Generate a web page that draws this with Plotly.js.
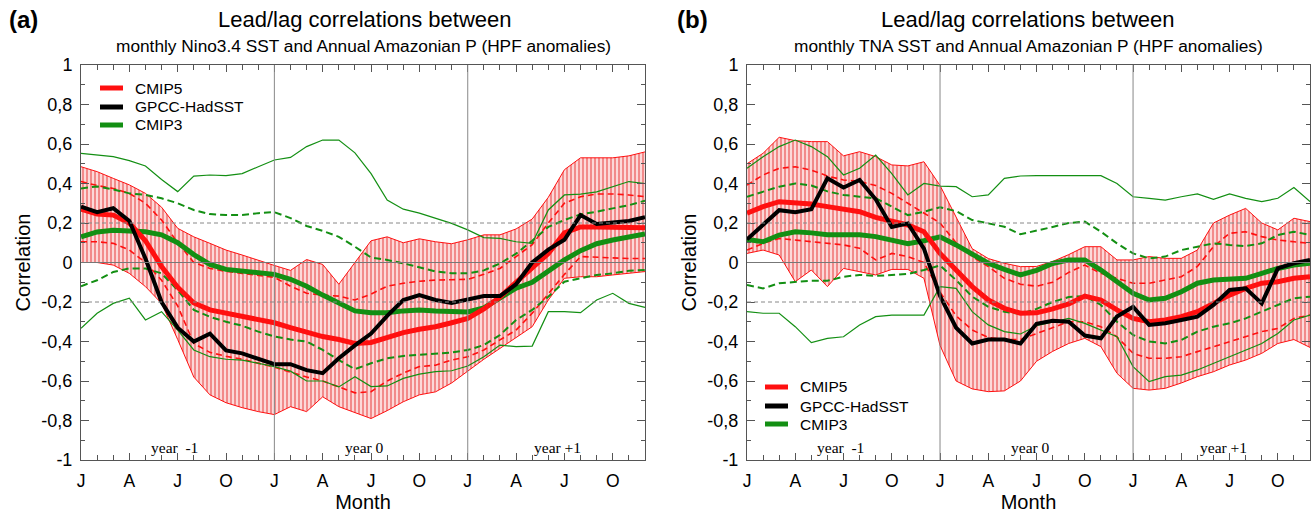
<!DOCTYPE html>
<html><head><meta charset="utf-8">
<script src="https://cdn.plot.ly/plotly-3.0.1.min.js"></script>
<style>html,body{margin:0;padding:0;background:#fff}#chart{width:1314px;height:517px}</style>
</head><body><div id="chart"></div>
<script>
// ---------- categories / ticks ----------
const months = [0,1,2,3,4,5,6,7,8,9,10,11,12,13,14,15,16,17,18,19,20,21,22,23,24,25,26,27,28,29,30,31,32,33,34,35];
const tickMonths = [0,3,6,9,12,15,18,21,24,27,30,33];
const tickMonthLabels = ['J','A','J','O','J','A','J','O','J','A','J','O'];
const yTickVals = [-1,-0.8,-0.6,-0.4,-0.2,0,0.2,0.4,0.6,0.8,1];
const yTickLabels = ['-1','-0,8','-0,6','-0,4','-0,2','0','0,2','0,4','0,6','0,8','1'];
const yearLabels = ['year  -1','year 0','year +1'];
const seriesNames = ['CMIP5','GPCC-HadSST','CMIP3'];

// ---------- panel (a): Nino3.4 ----------
const a_cmip5_mean = [0.27,0.245,0.24,0.2,0.11,-0.02,-0.125,-0.205,-0.24,-0.255,-0.27,-0.285,-0.305,-0.33,-0.355,-0.375,-0.39,-0.41,-0.405,-0.38,-0.355,-0.338,-0.325,-0.305,-0.283,-0.235,-0.175,-0.1,-0.03,0.045,0.15,0.18,0.18,0.178,0.177,0.176];
const a_cmip5_max = [0.485,0.46,0.426,0.393,0.35,0.28,0.173,0.13,0.097,0.063,0.038,0.01,-0.015,-0.04,0.015,-0.01,-0.11,0.0,0.11,0.13,0.1,0.12,0.105,0.095,0.115,0.14,0.14,0.17,0.22,0.33,0.47,0.53,0.53,0.53,0.54,0.56];
const a_cmip5_min = [0.0,0.0,-0.013,-0.055,-0.122,-0.207,-0.39,-0.58,-0.67,-0.71,-0.735,-0.755,-0.77,-0.73,-0.755,-0.68,-0.73,-0.76,-0.79,-0.75,-0.705,-0.67,-0.655,-0.61,-0.55,-0.49,-0.435,-0.38,-0.325,-0.19,-0.08,-0.072,-0.072,-0.063,-0.055,-0.046];
const a_cmip5_sdup = [0.41,0.39,0.375,0.35,0.3,0.215,0.1,0.0,-0.03,-0.045,-0.055,-0.065,-0.075,-0.12,-0.156,-0.165,-0.17,-0.19,-0.16,-0.12,-0.105,-0.095,-0.089,-0.087,-0.085,-0.06,-0.03,0.03,0.09,0.2,0.3,0.333,0.347,0.347,0.342,0.333];
const a_cmip5_sdlo = [0.105,0.105,0.097,0.063,0.0,-0.09,-0.22,-0.41,-0.455,-0.475,-0.49,-0.51,-0.53,-0.555,-0.58,-0.6,-0.63,-0.66,-0.654,-0.6,-0.56,-0.527,-0.52,-0.494,-0.477,-0.443,-0.392,-0.342,-0.257,-0.156,-0.06,0.03,0.026,0.023,0.02,0.02];
const a_obs = [0.283,0.255,0.275,0.21,0.02,-0.2,-0.33,-0.4,-0.36,-0.445,-0.46,-0.485,-0.515,-0.515,-0.545,-0.56,-0.485,-0.42,-0.36,-0.27,-0.19,-0.165,-0.19,-0.205,-0.19,-0.17,-0.17,-0.11,0.0,0.065,0.115,0.24,0.195,0.2,0.21,0.23];
const a_cmip3_mean = [0.13,0.155,0.163,0.16,0.156,0.14,0.1,0.04,-0.01,-0.035,-0.045,-0.055,-0.06,-0.085,-0.12,-0.165,-0.205,-0.245,-0.254,-0.254,-0.245,-0.24,-0.245,-0.25,-0.25,-0.23,-0.18,-0.13,-0.1,-0.045,0.013,0.06,0.095,0.114,0.127,0.144];
const a_cmip3_sdup = [0.375,0.385,0.37,0.35,0.342,0.325,0.3,0.266,0.245,0.24,0.24,0.25,0.255,0.225,0.185,0.16,0.13,0.08,0.025,0.013,-0.004,-0.025,-0.045,-0.055,-0.055,-0.04,-0.005,0.045,0.11,0.18,0.215,0.244,0.257,0.274,0.29,0.313];
const a_cmip3_sdlo = [-0.12,-0.09,-0.048,-0.03,-0.03,-0.055,-0.14,-0.24,-0.275,-0.3,-0.32,-0.35,-0.375,-0.39,-0.4,-0.443,-0.494,-0.54,-0.51,-0.485,-0.473,-0.468,-0.463,-0.456,-0.443,-0.418,-0.367,-0.291,-0.24,-0.173,-0.097,-0.08,-0.063,-0.055,-0.042,-0.038];
const a_cmip3_max = [0.553,0.544,0.536,0.516,0.489,0.42,0.359,0.437,0.443,0.44,0.45,0.485,0.519,0.532,0.587,0.62,0.62,0.555,0.45,0.316,0.27,0.25,0.224,0.198,0.165,0.126,0.122,0.105,0.097,0.266,0.342,0.346,0.358,0.384,0.41,0.4];
const a_cmip3_min = [-0.333,-0.257,-0.207,-0.181,-0.291,-0.249,-0.342,-0.443,-0.477,-0.49,-0.494,-0.51,-0.527,-0.55,-0.6,-0.6,-0.63,-0.578,-0.628,-0.625,-0.587,-0.565,-0.553,-0.548,-0.524,-0.477,-0.418,-0.426,-0.423,-0.249,-0.249,-0.254,-0.19,-0.156,-0.207,-0.227];

// ---------- panel (b): TNA ----------
const b_cmip5_mean = [0.25,0.283,0.308,0.305,0.296,0.283,0.27,0.257,0.228,0.207,0.19,0.156,0.046,-0.038,-0.122,-0.19,-0.232,-0.257,-0.255,-0.235,-0.21,-0.17,-0.19,-0.24,-0.283,-0.3,-0.291,-0.274,-0.249,-0.207,-0.165,-0.131,-0.105,-0.097,-0.08,-0.072];
const b_cmip5_max = [0.5,0.553,0.634,0.617,0.612,0.612,0.54,0.561,0.536,0.494,0.489,0.51,0.39,0.23,0.07,0.02,-0.004,-0.021,-0.02,0.005,0.04,0.08,0.08,0.013,0.013,0.03,0.021,0.021,0.063,0.2,0.24,0.274,0.2,0.165,0.224,0.207];
const b_cmip5_min = [0.046,0.063,0.038,-0.097,-0.038,-0.122,-0.03,-0.046,-0.063,-0.035,-0.035,-0.08,-0.42,-0.6,-0.64,-0.654,-0.65,-0.6,-0.5,-0.45,-0.41,-0.384,-0.426,-0.561,-0.637,-0.646,-0.637,-0.61,-0.578,-0.553,-0.519,-0.494,-0.46,-0.41,-0.39,-0.43];
const b_cmip5_sdup = [0.392,0.443,0.477,0.485,0.468,0.438,0.418,0.41,0.39,0.35,0.3,0.25,0.2,0.1,0.03,-0.021,-0.08,-0.11,-0.12,-0.1,-0.05,-0.013,-0.055,-0.08,-0.105,-0.105,-0.089,-0.072,-0.02,0.08,0.148,0.156,0.131,0.114,0.105,0.097];
const b_cmip5_sdlo = [0.063,0.097,0.122,0.114,0.105,0.1,0.089,0.072,0.013,0.046,0.03,0.0,-0.15,-0.27,-0.342,-0.38,-0.39,-0.39,-0.36,-0.33,-0.3,-0.3,-0.325,-0.376,-0.46,-0.485,-0.485,-0.477,-0.452,-0.426,-0.4,-0.376,-0.35,-0.334,-0.283,-0.266];
const b_obs = [0.117,0.19,0.265,0.255,0.27,0.426,0.38,0.418,0.32,0.18,0.198,0.07,-0.17,-0.33,-0.41,-0.39,-0.39,-0.41,-0.31,-0.295,-0.3,-0.37,-0.384,-0.274,-0.224,-0.316,-0.308,-0.291,-0.274,-0.215,-0.139,-0.131,-0.207,-0.03,-0.004,0.013];
const b_cmip3_mean = [0.117,0.105,0.139,0.156,0.15,0.14,0.14,0.14,0.131,0.114,0.095,0.11,0.13,0.089,0.046,-0.004,-0.035,-0.063,-0.04,-0.005,0.013,0.013,-0.038,-0.097,-0.156,-0.19,-0.181,-0.148,-0.105,-0.089,-0.085,-0.08,-0.055,-0.03,-0.013,-0.004];
const b_cmip3_sdup = [0.333,0.358,0.384,0.4,0.39,0.36,0.342,0.333,0.325,0.283,0.24,0.257,0.28,0.26,0.215,0.198,0.181,0.143,0.16,0.18,0.2,0.207,0.156,0.097,0.046,0.021,0.03,0.063,0.08,0.097,0.089,0.083,0.097,0.139,0.156,0.139];
const b_cmip3_sdlo = [-0.114,-0.131,-0.105,-0.1,-0.092,-0.092,-0.072,-0.063,-0.068,-0.063,-0.058,-0.038,-0.015,-0.089,-0.173,-0.224,-0.249,-0.26,-0.235,-0.2,-0.175,-0.17,-0.215,-0.3,-0.367,-0.4,-0.41,-0.392,-0.35,-0.325,-0.308,-0.283,-0.249,-0.215,-0.181,-0.173];
const b_cmip3_max = [0.477,0.536,0.587,0.62,0.587,0.536,0.443,0.477,0.544,0.45,0.342,0.4,0.387,0.384,0.333,0.342,0.426,0.438,0.44,0.44,0.44,0.44,0.44,0.4,0.333,0.325,0.316,0.333,0.347,0.32,0.347,0.325,0.308,0.325,0.38,0.308];
const b_cmip3_min = [-0.249,-0.257,-0.257,-0.325,-0.406,-0.384,-0.376,-0.316,-0.274,-0.266,-0.266,-0.266,-0.122,-0.131,-0.249,-0.316,-0.35,-0.362,-0.32,-0.3,-0.283,-0.308,-0.342,-0.376,-0.527,-0.603,-0.578,-0.57,-0.544,-0.51,-0.477,-0.443,-0.41,-0.359,-0.291,-0.266];

// ---------- styles ----------
const RED = '#ff1010', GREEN = '#138f13', BLACK = '#000000';
const seriesColors = [RED, BLACK, GREEN];
const FONT = '"Liberation Sans", Arial, Helvetica, sans-serif';

function panel(p, xa, ya) {
  const t = [];
  const base = {x: months, xaxis: xa, yaxis: ya, mode: 'lines', hoverinfo: 'skip', showlegend: false};
  t.push(Object.assign({}, base, {y: p.max, line: {color: RED, width: 1}}));
  t.push(Object.assign({}, base, {y: p.min, line: {color: RED, width: 1}, fill: 'tonexty',
    fillcolor: '#f9c4c4',
    fillpattern: {shape: '|', bgcolor: '#fcd8d8', fgcolor: '#f28a8a', size: 4, solidity: 0.5}}));
  t.push(Object.assign({}, base, {y: p.sdup, line: {color: RED, width: 1.6, dash: '6px,4px'}}));
  t.push(Object.assign({}, base, {y: p.sdlo, line: {color: RED, width: 1.6, dash: '6px,4px'}}));
  t.push(Object.assign({}, base, {y: p.c3max, line: {color: GREEN, width: 1.2}}));
  t.push(Object.assign({}, base, {y: p.c3min, line: {color: GREEN, width: 1.2}}));
  t.push(Object.assign({}, base, {y: p.c3sdup, line: {color: GREEN, width: 2, dash: '7px,4px'}}));
  t.push(Object.assign({}, base, {y: p.c3sdlo, line: {color: GREEN, width: 2, dash: '7px,4px'}}));
  t.push(Object.assign({}, base, {y: p.c3mean, name: seriesNames[2], line: {color: GREEN, width: 5}}));
  t.push(Object.assign({}, base, {y: p.mean, name: seriesNames[0], line: {color: RED, width: 5}}));
  t.push(Object.assign({}, base, {y: p.obs, name: seriesNames[1], line: {color: BLACK, width: 4}}));
  return t;
}

const data = [].concat(
  panel({mean: a_cmip5_mean, max: a_cmip5_max, min: a_cmip5_min, sdup: a_cmip5_sdup, sdlo: a_cmip5_sdlo, obs: a_obs,
         c3mean: a_cmip3_mean, c3sdup: a_cmip3_sdup, c3sdlo: a_cmip3_sdlo, c3max: a_cmip3_max, c3min: a_cmip3_min}, 'x', 'y'),
  panel({mean: b_cmip5_mean, max: b_cmip5_max, min: b_cmip5_min, sdup: b_cmip5_sdup, sdlo: b_cmip5_sdlo, obs: b_obs,
         c3mean: b_cmip3_mean, c3sdup: b_cmip3_sdup, c3sdlo: b_cmip3_sdlo, c3max: b_cmip3_max, c3min: b_cmip3_min}, 'x2', 'y2')
);

const W = 1314, H = 517;
const px = v => v / W, py = v => (H - v) / H;
const AXC = '#555555';

function xAxis(dom, anchor) {
  return {domain: dom, anchor: anchor, range: [0, 35], tickmode: 'array', tickvals: tickMonths, ticktext: tickMonthLabels,
    ticks: 'inside', ticklen: 7, tickwidth: 1, tickcolor: AXC, showline: true, linecolor: AXC, linewidth: 1, mirror: 'ticks',
    showgrid: false, zeroline: false, tickfont: {size: 17.5, color: '#000'}, ticklabelstandoff: 5,
    minor: {tickmode: 'linear', tick0: 0, dtick: 1, ticks: 'inside', ticklen: 5, tickcolor: AXC, showgrid: false},
    title: {text: 'Month', font: {size: 20, color: '#000'}, standoff: 4}};
}
function yAxis(anchor) {
  return {domain: [py(460), py(65)], anchor: anchor, range: [-1, 1], tickmode: 'array', tickvals: yTickVals, ticktext: yTickLabels,
    ticks: 'inside', ticklen: 8, tickwidth: 1, tickcolor: AXC, showline: true, linecolor: AXC, linewidth: 1, mirror: 'ticks',
    showgrid: false, zeroline: false, tickfont: {size: 18, color: '#000'}, ticklabelstandoff: 4,
    minor: {tickmode: 'linear', tick0: 0, dtick: 0.1, ticks: 'inside', ticklen: 4, tickcolor: AXC, showgrid: false},
    title: {text: 'Correlation', font: {size: 20, color: '#000'}, standoff: 5}};
}

const shapes = [];
[['x', 'y'], ['x2', 'y2']].forEach(([xa, ya]) => {
  shapes.push({type: 'line', xref: xa + ' domain', yref: ya, x0: 0, x1: 1, y0: 0, y1: 0, line: {color: '#777', width: 1}, layer: 'above'});
  [0.2, -0.2].forEach(v => shapes.push({type: 'line', xref: xa + ' domain', yref: ya, x0: 0, x1: 1, y0: v, y1: v, line: {color: '#888', width: 1, dash: '4px,3px'}, layer: 'above'}));
  [12, 24].forEach(m => shapes.push({type: 'line', xref: xa, yref: ya + ' domain', x0: m, x1: m, y0: 0, y1: 1, line: {color: '#888', width: 1}, layer: 'above'}));
});

const annotations = [];
function txt(text, x, y, size, opts) {
  annotations.push(Object.assign({text: text, xref: 'paper', yref: 'paper', x: px(x), y: py(y), showarrow: false,
    xanchor: 'center', yanchor: 'middle', font: {size: size, family: FONT, color: '#000'}}, opts || {}));
}
txt('<b>(a)</b>', 7, 20, 24, {xanchor: 'left'});
txt('<b>(b)</b>', 675, 20, 24, {xanchor: 'left'});
txt('Lead/lag correlations between', 365, 20, 22);
txt('Lead/lag correlations between', 1028, 20, 22);
txt('monthly Nino3.4 SST and Annual Amazonian P (HPF anomalies)', 363, 46, 17.3);
txt('monthly TNA SST and Annual Amazonian P (HPF anomalies)', 1028, 46, 17.3);
const yearPos = [5.8, 17.6, 29.6];
[['x', 'y'], ['x2', 'y2']].forEach(([xa, ya]) => {
  yearLabels.forEach((s, i) => annotations.push({text: s, xref: xa, yref: ya, x: yearPos[i], y: -0.935, showarrow: false,
    font: {size: 15.5, family: '"Liberation Serif", "Times New Roman", serif', color: '#000'}}));
});

// custom legends (line sample + label), one per panel
const legendPos = [{x: 100, y: [88, 107, 125]}, {x: 765, y: [387, 406, 424]}];
legendPos.forEach(L => {
  seriesNames.forEach((n, i) => {
    shapes.push({type: 'line', xref: 'paper', yref: 'paper', x0: px(L.x), x1: px(L.x + 23), y0: py(L.y[i]), y1: py(L.y[i]),
      line: {color: seriesColors[i], width: 5}, layer: 'above'});
    txt(n, L.x + 33, L.y[i], 15.5, {xanchor: 'left'});
  });
});

const layout = {
  width: W, height: H, margin: {l: 0, r: 0, t: 0, b: 0}, paper_bgcolor: '#fff', plot_bgcolor: '#fff',
  font: {family: FONT, color: '#000'}, showlegend: false,
  xaxis: xAxis([px(81), px(645)], 'y'),
  yaxis: yAxis('x'),
  xaxis2: xAxis([px(747), px(1310)], 'y2'),
  yaxis2: yAxis('x2'),
  shapes: shapes, annotations: annotations
};

Plotly.newPlot('chart', data, layout, {displayModeBar: false, staticPlot: true});
</script></body></html>
